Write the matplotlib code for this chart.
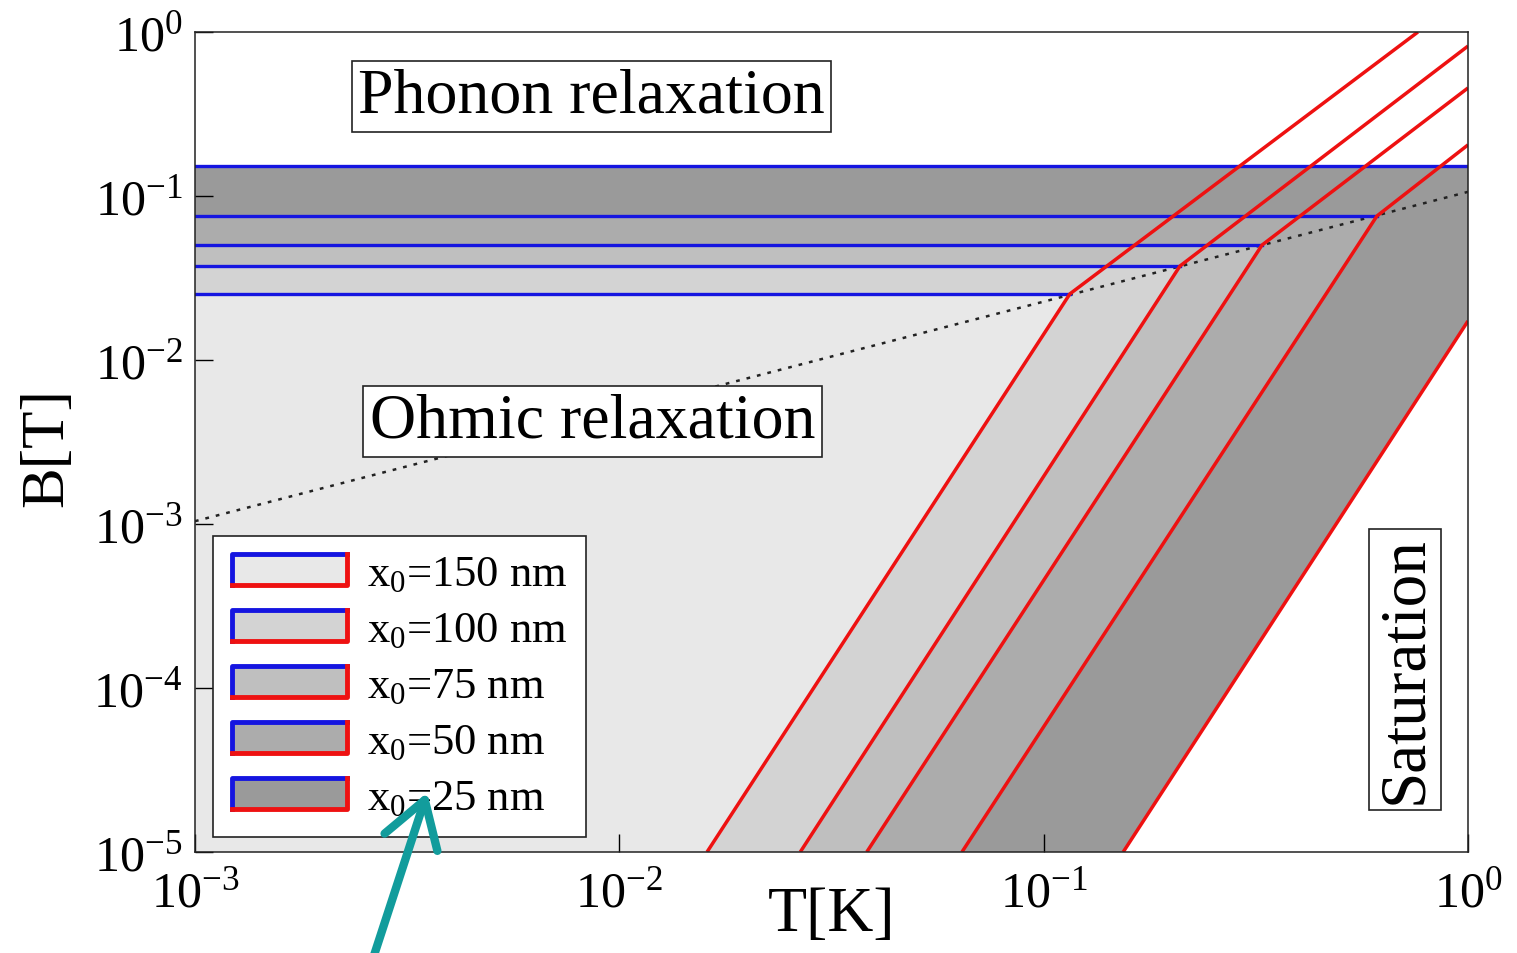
import matplotlib.pyplot as plt
from matplotlib.legend_handler import HandlerBase
from matplotlib.patches import Rectangle, Patch, FancyArrowPatch
from matplotlib.lines import Line2D
from matplotlib.ticker import NullLocator

plt.rcParams['font.family'] = ['Liberation Serif', 'DejaVu Serif']
plt.rcParams['mathtext.fontset'] = 'custom'
plt.rcParams['mathtext.rm'] = 'Liberation Serif'
plt.rcParams['mathtext.it'] = 'Liberation Serif:italic'

# data
labels = ['150', '100', '75', '50', '25']            # x0 in nm
b_phonon = [0.0253, 0.0374, 0.0502, 0.0755, 0.152]  # blue lines, B[T]
t_bottom = [0.0161, 0.0267, 0.0383, 0.0642, 0.154]  # red curve at B = 1e-5
t_kink = [0.1153, 0.2095, 0.327, 0.610, None]        # red curve meets dotted line
t_end = [0.762, 1.0, 1.0, 1.0, 1.0]
b_end = [1.0, 0.821, 0.456, 0.205, 0.0173]
fills = ['#e8e8e8', '#d3d3d3', '#bfbfbf', '#acacac', '#9a9a9a']

dotted_t = [1e-3, 1.0]
dotted_b = [1.04e-3, 0.106]

xticks = [1e-3, 1e-2, 1e-1, 1]
xtick_labels = [r'$10^{-3}$', r'$10^{-2}$', r'$10^{-1}$', r'$10^{0}$']
yticks = [1e-5, 1e-4, 1e-3, 1e-2, 1e-1, 1]
ytick_labels = [r'$10^{-5}$', r'$10^{-4}$', r'$10^{-3}$', r'$10^{-2}$', r'$10^{-1}$', r'$10^{0}$']

tmin, tmax = 1e-3, 1.0
bmin, bmax = 1e-5, 1.0


class BandHandler(HandlerBase):
    def create_artists(self, legend, orig_handle, xdescent, ydescent,
                       width, height, fontsize, trans):
        x0, y0 = -xdescent, -ydescent
        rect = Rectangle((x0, y0), width, height, facecolor=orig_handle.get_facecolor(),
                         edgecolor='none', transform=trans)
        blue = Line2D([x0, x0, x0 + width], [y0, y0 + height, y0 + height],
                      color='#1515e0', lw=3.5, transform=trans)
        red = Line2D([x0, x0 + width, x0 + width], [y0, y0, y0 + height],
                     color='#ee1111', lw=3.5, transform=trans)
        return [rect, blue, red]


fig = plt.figure(figsize=(15.17, 9.54), dpi=100)
ax = fig.add_axes([0.1285, 0.1059, 0.8392, 0.8595])
ax.set_xscale('log')
ax.set_yscale('log')
ax.set_xlim(tmin, tmax)
ax.set_ylim(bmin, bmax)

# shaded regions, darkest (largest) first
for i in reversed(range(len(labels))):
    if t_kink[i] is not None:
        xs = [tmin, tmin, t_kink[i], t_bottom[i]]
        ys = [bmin, b_phonon[i], b_phonon[i], bmin]
    else:
        xs = [tmin, tmin, tmax, tmax, t_bottom[i]]
        ys = [bmin, b_phonon[i], b_phonon[i], b_end[i], bmin]
    ax.fill(xs, ys, color=fills[i], lw=0, zorder=1)

ax.plot(dotted_t, dotted_b, ls=(0, (1.5, 2.8)), color='#222222', lw=1.8, zorder=2)

for i in range(len(labels)):
    t_stop = t_kink[i] if t_kink[i] is not None else tmax
    ax.plot([tmin, t_stop], [b_phonon[i], b_phonon[i]], color='#1515e0', lw=2.4, zorder=3)

for i in range(len(labels)):
    if t_kink[i] is not None:
        xs = [t_bottom[i], t_kink[i], t_end[i]]
        ys = [bmin, b_phonon[i], b_end[i]]
    else:
        xs = [t_bottom[i], t_end[i]]
        ys = [bmin, b_end[i]]
    ax.plot(xs, ys, color='#ee1111', lw=2.5, zorder=4, solid_capstyle='butt')

ax.set_xticks(xticks)
ax.set_xticklabels(xtick_labels)
ax.set_yticks(yticks)
ax.set_yticklabels(ytick_labels)
ax.xaxis.set_minor_locator(NullLocator())
ax.yaxis.set_minor_locator(NullLocator())
ax.tick_params(direction='in', length=13, width=1, labelsize=36,
               top=False, right=False)
ax.tick_params(axis='x', pad=13)
ax.tick_params(axis='y', pad=9)
for sp in ax.spines.values():
    sp.set_linewidth(1.1)
    sp.set_color('#222222')
    sp.set_zorder(6)

ax.set_xlabel('T[K]', fontsize=46)
ax.xaxis.set_label_coords(0.5, -0.042)
ax.set_ylabel('B[T]', fontsize=44)
ax.yaxis.set_label_coords(-0.094, 0.495)

box = dict(boxstyle='square,pad=0.1', fc='white', ec='#222222', lw=1.2)
ax.text(0.3115, 0.921, 'Phonon relaxation', transform=ax.transAxes, fontsize=46,
        ha='center', va='center', bbox=box, zorder=7)
ax.text(0.3123, 0.525, 'Ohmic relaxation', transform=ax.transAxes, fontsize=46,
        ha='center', va='center', bbox=box, zorder=7)
ax.text(0.9505, 0.223, 'Saturation', transform=ax.transAxes, fontsize=47,
        ha='center', va='center', rotation=90, bbox=box, zorder=7)

handles = [Patch(facecolor=c) for c in fills]
leg_labels = [r'x$_0$=' + s + ' nm' for s in labels]
leg = ax.legend(handles, leg_labels, handler_map={Patch: BandHandler()},
                loc='lower left', bbox_to_anchor=(0.0141, 0.0183), borderaxespad=0,
                fontsize=32, frameon=True, fancybox=False, framealpha=1,
                edgecolor='#222222', handlelength=2.6, handleheight=0.68,
                handletextpad=0.45, labelspacing=0.36, borderpad=0.42)
leg.get_frame().set_linewidth(1.2)
leg.set_zorder(8)

arrow = FancyArrowPatch((0.245, -0.01), (0.2822, 0.171), transform=fig.transFigure,
                        arrowstyle='->,head_length=0.8,head_width=0.5',
                        mutation_scale=40, lw=6, color='#129c9c')
fig.add_artist(arrow)

fig.savefig('out.png', dpi=100)
